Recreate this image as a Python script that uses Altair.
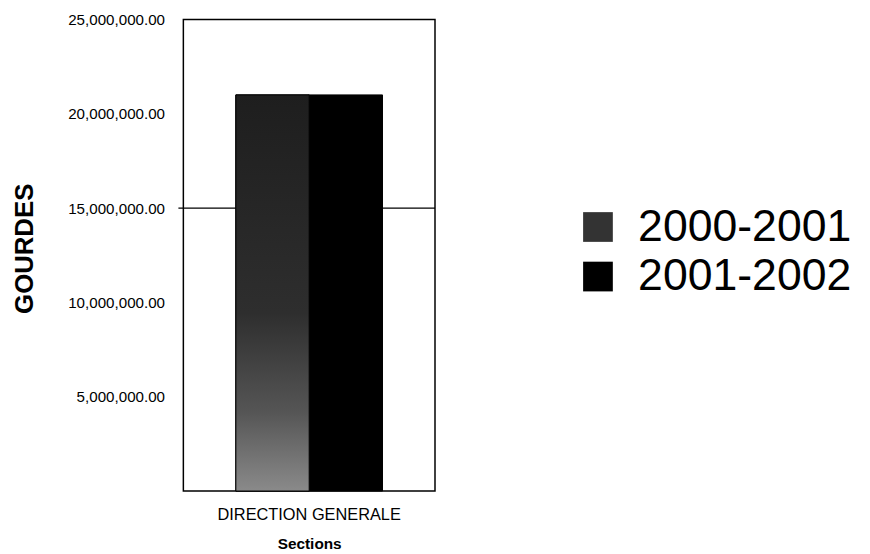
import altair as alt
import pandas as pd

sections = ["DIRECTION GENERALE"]
years = ["2000-2001", "2001-2002"]
values = [21000000, 21000000]
y_ticks = [5000000, 10000000, 15000000, 20000000, 25000000]
grid_values = [15000000]
colors = ["#333333", "#000000"]

df = pd.DataFrame({
    "section": [sections[0], sections[0]],
    "year": years,
    "value": values,
})
grid_df = pd.DataFrame({"g": grid_values})

FONT = "Liberation Sans"

x_enc = alt.X("section:N", title="Sections",
              scale=alt.Scale(paddingInner=0, paddingOuter=0.358),
              axis=alt.Axis(labelAngle=0, ticks=False, domain=False,
                            labelFont=FONT, labelFontSize=16.5, labelColor="black",
                            labelPadding=16, labelLimit=0,
                            titleFont=FONT, titleFontSize=15.5, titleFontWeight="bold",
                            titleColor="black", titleY=53, titleBaseline="middle"))
y_enc = alt.Y("value:Q", title="GOURDES",
              scale=alt.Scale(domain=[0, 25000000], nice=False),
              axis=alt.Axis(values=y_ticks, format=",.2f", grid=False, ticks=False,
                            domain=False,
                            labelFont=FONT, labelFontSize=15.3, labelColor="black",
                            labelPadding=19, labelLimit=0,
                            titleFont=FONT, titleFontSize=26, titleFontWeight="bold",
                            titleColor="black", titleAngle=270, titleX=-160, titleY=231,
                            titleAlign="center", titleBaseline="middle"))

base = alt.Chart(df)

grid = alt.Chart(grid_df).mark_rule(color="black", strokeWidth=1.2).encode(
    y=alt.Y("g:Q"),
    x=alt.value(-5),
    x2=alt.value(254),
)

bars = base.mark_bar(stroke="black", strokeWidth=1).encode(
    x=x_enc,
    xOffset=alt.XOffset("year:N", scale=alt.Scale(paddingInner=0, paddingOuter=0)),
    y=y_enc,
    color=alt.Color("year:N", title=None,
                    scale=alt.Scale(domain=years, range=colors),
                    legend=alt.Legend(orient="none", legendX=396, legendY=187,
                                      symbolType="square", symbolSize=900,
                                      symbolStrokeWidth=0,
                                      labelFont=FONT, labelFontSize=45,
                                      labelColor="black", labelOffset=18,
                                      labelLimit=0, rowPadding=4)),
)

textured = base.transform_filter(alt.datum.year == years[0]).mark_bar(
    stroke="black", strokeWidth=1,
    color=alt.Gradient(
        gradient="linear", x1=0, x2=0, y1=0, y2=1,
        stops=[
            alt.GradientStop(color="#1e1e1e", offset=0),
            alt.GradientStop(color="#2e2e2e", offset=0.55),
            alt.GradientStop(color="#555555", offset=0.8),
            alt.GradientStop(color="#8a8a8a", offset=1),
        ],
    ),
).encode(
    x=alt.X("section:N"),
    xOffset=alt.XOffset("year:N"),
    y=alt.Y("value:Q"),
)

chart = alt.layer(grid, bars, textured).properties(
    width=254,
    height=476,
    autosize="none",
    padding={"left": 177, "top": 9, "right": 431, "bottom": 61},
    background="white",
).configure_view(stroke="black", strokeWidth=1.5)

chart.save("out.html", embed_options={"renderer": "svg", "actions": False})
